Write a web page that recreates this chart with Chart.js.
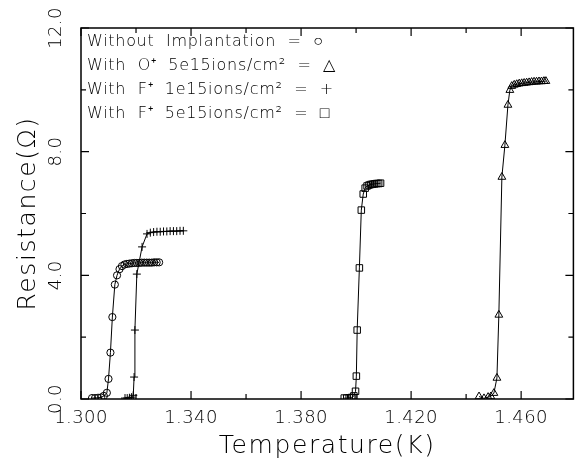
<!DOCTYPE html>
<html>
<head>
<meta charset="utf-8">
<script src="https://cdn.jsdelivr.net/npm/chart.js@4/dist/chart.umd.min.js"></script>
<style>
html,body{margin:0;padding:0;background:#fff;}
#wrap{width:579px;height:472px;}
</style>
</head>
<body>
<div id="wrap"><canvas id="c" width="579" height="472"></canvas></div>
<script>
// ---- data ----
const circleT = [1.3040,1.3051,1.3062,1.3073,1.3083,1.3094,1.3100,1.3107,1.3114,1.3123,1.3131,1.3140,1.3149,1.3158,1.3167,1.3176,1.3185,1.3194,1.3203,1.3212,1.3221,1.3230,1.3239,1.3248,1.3257,1.3266,1.3275,1.3284];
const circleR = [0.03,0.03,0.04,0.05,0.10,0.20,0.65,1.50,2.65,3.70,4.00,4.20,4.30,4.35,4.37,4.38,4.39,4.40,4.40,4.40,4.41,4.41,4.41,4.41,4.41,4.42,4.42,4.42];

const plusT = [1.3160,1.3168,1.3176,1.3184,1.3190,1.3193,1.3196,1.3203,1.3222,1.3240,1.3252,1.3264,1.3276,1.3288,1.3300,1.3312,1.3324,1.3336,1.3348,1.3360,1.3372];
const plusR = [0.03,0.03,0.04,0.06,0.12,0.71,2.23,4.04,4.92,5.34,5.38,5.40,5.41,5.41,5.42,5.42,5.43,5.43,5.43,5.44,5.44];

const squareT = [1.3957,1.3966,1.3975,1.3984,1.3992,1.3998,1.4001,1.4004,1.4012,1.4019,1.4026,1.4033,1.4040,1.4047,1.4054,1.4061,1.4068,1.4075,1.4082,1.4089];
const squareR = [0.03,0.03,0.04,0.05,0.10,0.25,0.74,2.23,4.24,6.11,6.63,6.82,6.89,6.92,6.94,6.95,6.96,6.97,6.97,6.98];

const triT = [1.4447,1.4465,1.4480,1.4490,1.4501,1.4512,1.4519,1.4530,1.4541,1.4552,1.4559,1.4566,1.4575,1.4584,1.4593,1.4602,1.4611,1.4620,1.4629,1.4638,1.4647,1.4656,1.4665,1.4674,1.4683,1.4690];
const triR = [0.08,0.02,0.06,0.08,0.19,0.68,2.72,7.18,8.21,9.51,9.99,10.12,10.16,10.18,10.20,10.21,10.22,10.23,10.24,10.25,10.26,10.26,10.27,10.27,10.28,10.28];

const xMajorTicks = [1.300,1.340,1.380,1.420,1.460];
const xMajorLabels = ['1.300','1.340','1.380','1.420','1.460'];
const xMinorTicks = [1.320,1.360,1.400,1.440];
const yMajorTicks = [0,4,8,12];
const yMajorLabels = ['0.0','4.0','8.0','12.0'];
const yMinorTicks = [2,6,10];
const xTitle = 'Temperature(K)';
const yTitle = 'Resistance(Ω)';
const legendLines = [
  'Without  Implantation  =  ○',
  'With  O⁺  5e15ions/cm²  =  △',
  'With  F⁺  1e15ions/cm²  =  +',
  'With  F⁺  5e15ions/cm²  =  □'
];

const pts = (xs, ys) => xs.map((v, i) => ({x: v, y: ys[i]}));
const FONT = '"DejaVu Sans", "Liberation Sans", sans-serif';

const framePlugin = {
  id: 'frame',
  afterDraw(chart) {
    const {ctx, chartArea: a, scales: {x, y}} = chart;
    ctx.save();
    ctx.strokeStyle = '#000';
    ctx.lineWidth = 1.5;
    ctx.strokeRect(a.left, a.top, a.right - a.left, a.bottom - a.top);
    ctx.lineWidth = 1.2;
    const tick = (px, len, horiz) => {
      ctx.beginPath();
      if (horiz) {
        ctx.moveTo(px, a.bottom); ctx.lineTo(px, a.bottom - len);
        ctx.moveTo(px, a.top); ctx.lineTo(px, a.top + len);
      } else {
        ctx.moveTo(a.left, px); ctx.lineTo(a.left + len, px);
        ctx.moveTo(a.right, px); ctx.lineTo(a.right - len, px);
      }
      ctx.stroke();
    };
    xMajorTicks.forEach(v => tick(x.getPixelForValue(v), 8, true));
    xMinorTicks.forEach(v => tick(x.getPixelForValue(v), 5, true));
    yMajorTicks.forEach(v => tick(y.getPixelForValue(v), 8, false));
    yMinorTicks.forEach(v => tick(y.getPixelForValue(v), 5, false));

    ctx.fillStyle = '#000';
    // x tick labels
    ctx.font = '200 18px ' + FONT;
    ctx.textAlign = 'center';
    ctx.textBaseline = 'middle';
    ctx.letterSpacing = '0.4px';
    xMajorTicks.forEach((v, i) => ctx.fillText(xMajorLabels[i], x.getPixelForValue(v), 418));
    // y tick labels (rotated)
    yMajorTicks.forEach((v, i) => {
      ctx.save();
      ctx.translate(56, y.getPixelForValue(v));
      ctx.rotate(-Math.PI / 2);
      ctx.fillText(yMajorLabels[i], 0, 0);
      ctx.restore();
    });
    // titles
    ctx.font = '200 25px ' + FONT;
    ctx.letterSpacing = '1.6px';
    ctx.fillText(xTitle, (a.left + a.right) / 2, 446);
    ctx.save();
    ctx.translate(28, (a.top + a.bottom) / 2);
    ctx.rotate(-Math.PI / 2);
    ctx.fillText(yTitle, 0, 0);
    ctx.restore();
    // legend text
    ctx.font = '200 16px ' + FONT;
    ctx.letterSpacing = '0.7px';
    ctx.textAlign = 'left';
    legendLines.forEach((s, i) => ctx.fillText(s, 87, 42 + i * 23.8));
    ctx.restore();
  }
};

const common = {
  showLine: true,
  borderColor: '#000',
  borderWidth: 1,
  tension: 0,
  pointBackgroundColor: 'rgba(0,0,0,0)',
  pointBorderColor: '#000',
  pointBorderWidth: 1
};

new Chart(document.getElementById('c'), {
  type: 'scatter',
  data: {
    datasets: [
      Object.assign({label: 'Without Implantation', data: pts(circleT, circleR), pointStyle: 'circle', pointRadius: 3.6}, common),
      Object.assign({label: 'With O+ 5e15ions/cm2', data: pts(triT, triR), pointStyle: 'triangle', pointRadius: 4.5}, common),
      Object.assign({label: 'With F+ 1e15ions/cm2', data: pts(plusT, plusR), pointStyle: 'cross', pointRadius: 4}, common),
      Object.assign({label: 'With F+ 5e15ions/cm2', data: pts(squareT, squareR), pointStyle: 'rect', pointRadius: 4.6}, common)
    ]
  },
  options: {
    responsive: false,
    animation: false,
    layout: {padding: {left: 81, top: 28, right: 4, bottom: 73}},
    plugins: {legend: {display: false}, tooltip: {enabled: false}},
    scales: {
      x: {type: 'linear', min: 1.300, max: 1.479, display: false},
      y: {type: 'linear', min: 0, max: 12, display: false}
    }
  },
  plugins: [framePlugin]
});
</script>
</body>
</html>
